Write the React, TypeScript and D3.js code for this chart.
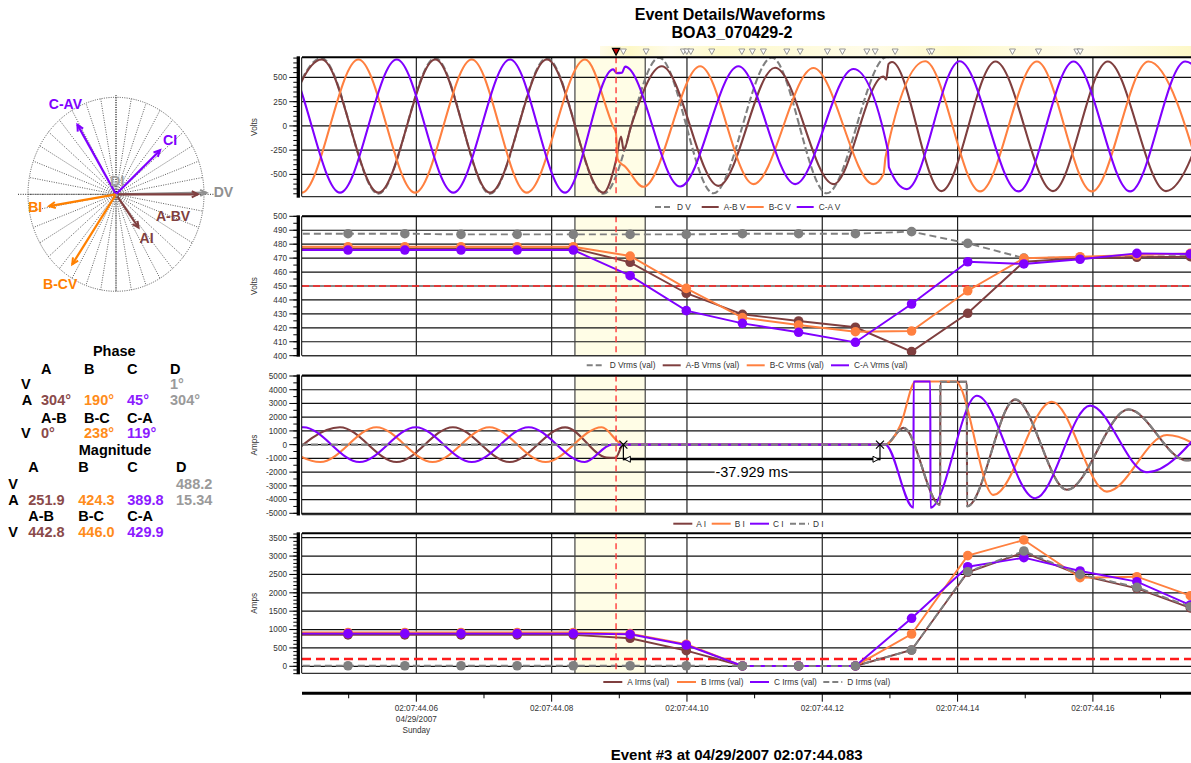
import React from "react";
import * as d3 from "d3";

type Pt = [number, number];

const FONT = "'Liberation Sans', Arial, Helvetica, sans-serif";
const C_AB = "#7f3f3f";
const C_BC = "#ff8040";
const C_CA = "#8000ff";
const C_D = "#808080";

// ---------------- titles / labels ----------------
const titleLines = ["Event Details/Waveforms", "BOA3_070429-2"];
const footer = "Event #3 at 04/29/2007 02:07:44.083";

// ---------------- time axis (ms after 02:07:44) ----------------
const timeMajor = [60, 80, 100, 120, 140, 160];
const timeMinor = [50, 70, 90, 110, 130, 150, 170];
const timeLabels = ["02:07:44.06", "02:07:44.08", "02:07:44.10", "02:07:44.12", "02:07:44.14", "02:07:44.16"];
const dateLabels = ["04/29/2007", "Sunday"];

const voltTicks = [-500, -250, 0, 250, 500];
const rmsVoltTicks = [400, 410, 420, 430, 440, 450, 460, 470, 480, 490, 500];
const ampTicks = [-5000, -4000, -3000, -2000, -1000, 0, 1000, 2000, 3000, 4000, 5000];
const rmsAmpTicks = [0, 500, 1000, 1500, 2000, 2500, 3000, 3500];

const eventWindow = [83.44, 93.83];
const cursorTime = 89.52;
const measureStart = 90.6;
const measureDelta = 37.929;
const voltThreshold = 450;
const ampThreshold = 200;
const markerTimes = [90.6, 93.96, 99.47, 99.98, 100.57, 103.67, 108.11, 109.67, 111.3, 114.76, 116.73, 120.76, 122.98, 126.59, 127.82, 130.77, 135.84, 136.2, 148.11, 151.96, 157.63, 158.12];

// ---------------- panel 1 : instantaneous voltages (peaks / breakpoints) ----------------
const waveLabels = ["D V", "A-B V", "B-C V", "C-A V"];
const waveDV: Pt[] = [[37.6, -698], [46.0, 700], [54.4, -700], [62.8, 700], [70.9, -700], [79.3, 700], [87.65, -700], [95.88, 705], [103.91, -695], [112.54, 705], [120.67, -695], [129.55, 712], [130.1, 705]];
const waveAB: Pt[] = [[37.6, -685], [46.0, 685], [54.4, -688], [62.8, 685], [70.9, -688], [79.3, 685], [87.65, -688], [89.5, -360], [90.25, -110], [90.65, -250], [91.7, -10], [96.28, 615], [104.65, -618], [113.03, 600], [121.65, -600], [129.05, 510], [129.45, 478], [129.8, 640], [130.3, 660], [137.6, -672], [145.6, 665], [154.1, -672], [162.2, 665], [170.8, -672], [179.1, 665]];
const waveBC: Pt[] = [[34.7, 685], [43.06, -688], [51.43, 685], [59.81, -688], [68.19, 685], [76.32, -688], [84.94, 685], [89.12, -10], [89.5, -70], [89.75, -340], [90.2, -385], [90.7, -410], [93.56, -628], [101.95, 615], [109.82, -600], [118.69, 598], [127.57, -600], [129.05, -496], [129.35, -323], [135.21, 667], [143.33, -675], [151.72, 665], [159.85, -675], [168.22, 665], [176.6, -675]];
const waveCA: Pt[] = [[32.0, -688], [40.34, 685], [48.72, -688], [57.1, 685], [65.47, -688], [73.85, 685], [81.98, -688], [89.1, 583], [89.6, 545], [90.4, 550], [90.85, 612], [98.99, -625], [107.6, 615], [115.99, -600], [124.61, 587], [129.7, -253], [129.85, -427], [132.5, -652], [140.3, 667], [149.0, -675], [157.13, 665], [165.51, -675], [173.64, 665], [182.0, -675]];

// ---------------- panel 2 : RMS voltages ----------------
const rmsTimes = [41.6, 49.9, 58.3, 66.6, 74.9, 83.2, 91.6, 99.9, 108.2, 116.5, 124.9, 133.2, 141.5, 149.8, 158.1, 166.5, 174.4];
const vrmsLabels = ["D Vrms (val)", "A-B Vrms (val)", "B-C Vrms (val)", "C-A Vrms (val)"];
const vrmsD = [487.5, 487.5, 487.5, 487, 487, 487, 487, 487, 487.5, 487.5, 487.5, 489, 480.6, 470, 470.5, 471, 471.5];
const vrmsAB = [477, 477, 477, 477, 477, 477, 467, 444.8, 429.7, 424.9, 420.4, 402.9, 430.4, 467.4, 469.9, 470.6, 471];
const vrmsBC = [478.2, 478.2, 478.2, 478.2, 478.2, 478.2, 471.5, 448.3, 427.3, 422, 417.2, 417.7, 446.6, 469.9, 471, 472.2, 473.4];
const vrmsCA = [475.8, 475.8, 475.8, 475.8, 475.8, 475.8, 457.4, 432.3, 423.2, 416.8, 409.6, 437.1, 467.4, 465.8, 469.2, 473.4, 473];

// ---------------- panel 3 : instantaneous currents ----------------
const curLabels = ["A I", "B I", "C I", "D I"];
const curA: Pt[] = [[40.4, -1260], [48.7, 1265], [57.1, -1265], [65.4, 1265], [73.8, -1265], [82.0, 1260], [88.1, -930], [89.4, -965], [90.6, 0], [129.3, 0], [132.0, 1220], [137.42, -4380], [137.45, 4570], [141.37, 4570], [141.4, -4490], [148.51, 3280], [156.16, -3290], [165.26, 2560], [173.8, -1140], [182.0, 1500]];
const curB: Pt[] = [[37.4, 1265], [45.8, -1265], [54.1, 1265], [62.4, -1265], [70.8, 1265], [79.1, -1265], [87.4, 1265], [90.6, 0], [129.3, 0], [131.56, 1430], [133.78, 4600], [139.69, 4600], [145.3, -3660], [153.94, 3130], [162.07, -3420], [170.94, 700], [179.0, -1400]];
const curC: Pt[] = [[35.0, -1265], [43.3, 1265], [51.6, -1265], [59.9, 1265], [68.2, -1265], [76.6, 1265], [84.9, -1265], [88.9, 0], [129.3, 0], [133.48, -4590], [133.5, 4600], [135.96, 4600], [136.0, -4590], [142.85, 3560], [151.47, -3900], [159.6, 2840], [167.98, -2010], [176.5, 1300]];
const curD: Pt[] = [[40.0, 0], [129.3, 0], [132.0, 1235], [137.42, -4395], [137.45, 4570], [141.37, 4570], [141.4, -4500], [148.51, 3300], [156.16, -3300], [165.26, 2570], [173.8, -1150], [182.0, 1500]];

// ---------------- panel 4 : RMS currents ----------------
const irmsLabels = ["A Irms (val)", "B Irms (val)", "C Irms (val)", "D Irms (val)"];
const irmsA = [855, 855, 855, 855, 855, 855, 762, 425, 10, 10, 10, 443, 2560, 3100, 2480, 2120, 1590];
const irmsB = [920, 920, 920, 920, 920, 920, 890, 600, 10, 10, 10, 879, 3011, 3438, 2412, 2439, 1922];
const irmsC = [888, 888, 888, 888, 888, 888, 871, 580, 10, 10, 10, 1306, 2711, 2956, 2594, 2303, 1668];
const irmsD = [15, 15, 15, 15, 15, 15, 15, 15, 10, 10, 10, 443, 2575, 3138, 2503, 2150, 1622];

// ---------------- phasors ----------------
const phasorNames = ["DV", "A-BV", "B-CV", "C-AV", "AI", "BI", "CI", "DI"];
const phasorKinds = ["V", "V", "V", "V", "I", "I", "I", "I"];
const phasorAngles = [1, 0, 238, 119, 304, 190, 45, 304];
const phasorMags = [488.2, 442.8, 446.0, 429.9, 251.9, 424.3, 389.8, 15.34];

// ---------------- table ----------------
const phaseCols = ["A", "B", "C", "D"];
const llCols = ["A-B", "B-C", "C-A"];
const phaseV = ["", "", "", "1°"];
const phaseA = ["304°", "190°", "45°", "304°"];
const phaseLL = ["0°", "238°", "119°"];
const magV = ["", "", "", "488.2"];
const magA = ["251.9", "424.3", "389.8", "15.34"];
const magLL = ["442.8", "446.0", "429.9"];

const T_COL = ["#8a4a4a", "#ff8c1a", "#8c1aff", "#9a9a9a"];

export default function App() {
  const L = 302;
  const R = 1191;
  const x = d3.scaleLinear().domain([43.1, 174.5]).range([L, R]);

  const panels = [
    { id: "p1", top: 57.3, bottom: 196.7, y: d3.scaleLinear().domain([-730, 708]).range([196.7, 57.3]), major: voltTicks, minorStep: 50, title: "Volts" },
    { id: "p2", top: 216.3, bottom: 355.7, y: d3.scaleLinear().domain([400, 500]).range([355.7, 216.3]), major: rmsVoltTicks, minorStep: 5, title: "Volts" },
    { id: "p3", top: 375.5, bottom: 514.5, y: d3.scaleLinear().domain([-5000, 5000]).range([513.3, 376]), major: ampTicks, minorStep: 500, title: "Amps" },
    { id: "p4", top: 533.3, bottom: 673.3, y: d3.scaleLinear().domain([0, 3500]).range([666.3, 537.7]), major: rmsAmpTicks, minorStep: 100, title: "Amps" },
  ];

  const wave = (y: d3.ScaleLinear<number, number>, data: Pt[]) =>
    d3.line<Pt>().x((d) => x(d[0])).y((d) => y(d[1])).curve(d3.curveMonotoneX)(data) || "";
  const rmsLine = (y: d3.ScaleLinear<number, number>, vals: number[]) =>
    d3.line<number>().x((_, i) => x(rmsTimes[i])).y((d) => y(d))(vals) || "";

  const renderRms = (y: d3.ScaleLinear<number, number>, vals: number[], color: string, dashed: boolean, key: string) => (
    <g key={key}>
      <path d={rmsLine(y, vals)} fill="none" stroke={color} strokeWidth={1.9} strokeDasharray={dashed ? "7,4" : undefined} />
      {vals.map((v, i) => (
        <circle key={i} cx={x(rmsTimes[i])} cy={y(v)} r={4.8} fill={color} />
      ))}
    </g>
  );

  const panelContent = (idx: number, y: d3.ScaleLinear<number, number>) => {
    if (idx === 0) {
      return (
        <g>
          <path d={wave(y, waveDV)} fill="none" stroke={C_D} strokeWidth={2.1} strokeDasharray="7,3" />
          <path d={wave(y, waveAB)} fill="none" stroke={C_AB} strokeWidth={2.1} />
          <path d={wave(y, waveBC)} fill="none" stroke={C_BC} strokeWidth={2.1} />
          <path d={wave(y, waveCA)} fill="none" stroke={C_CA} strokeWidth={2.1} />
        </g>
      );
    }
    if (idx === 1) {
      return (
        <g>
          <line x1={L} x2={R} y1={y(voltThreshold)} y2={y(voltThreshold)} stroke="#ff2020" strokeWidth={1.5} strokeDasharray="7,4" />
          {renderRms(y, vrmsD, C_D, true, "d")}
          {renderRms(y, vrmsAB, C_AB, false, "ab")}
          {renderRms(y, vrmsBC, C_BC, false, "bc")}
          {renderRms(y, vrmsCA, C_CA, false, "ca")}
        </g>
      );
    }
    if (idx === 2) {
      const x1 = x(measureStart);
      const x2 = x(measureStart + measureDelta);
      const y0 = y(0);
      const ym = y0 + 14.6;
      const cross = (cx: number) => (
        <path d={`M${cx - 4},${y0 - 4}L${cx + 4},${y0 + 4}M${cx - 4},${y0 + 4}L${cx + 4},${y0 - 4}`} stroke="#000" strokeWidth={1.2} />
      );
      const label = `-${measureDelta.toFixed(3)} ms`;
      const mid = (x1 + x2) / 2;
      return (
        <g>
          <path d={wave(y, curA)} fill="none" stroke={C_AB} strokeWidth={2.1} />
          <path d={wave(y, curB)} fill="none" stroke={C_BC} strokeWidth={2.1} />
          <path d={wave(y, curC)} fill="none" stroke={C_CA} strokeWidth={2.1} />
          <path d={wave(y, curD)} fill="none" stroke={C_D} strokeWidth={2.1} strokeDasharray="7,3" />
          {cross(x1)}
          {cross(x2)}
          <line x1={x1} x2={x1} y1={y0} y2={ym + 1} stroke="#000" strokeWidth={1.2} />
          <line x1={x2} x2={x2} y1={y0} y2={ym + 1} stroke="#000" strokeWidth={1.2} />
          <line x1={x1} x2={x2} y1={ym} y2={ym} stroke="#000" strokeWidth={2} />
          <path d={`M${x1 + 1.5},${ym}L${x1 + 7},${ym - 3}L${x1 + 7},${ym + 3}Z`} fill="#fff" stroke="#000" strokeWidth={1} />
          <path d={`M${x2 - 1.5},${ym}L${x2 - 7},${ym - 3}L${x2 - 7},${ym + 3}Z`} fill="#fff" stroke="#000" strokeWidth={1} />
          <rect x={mid - 37} y={ym + 5} width={74} height={15} fill="#fff" />
          <text x={mid} y={ym + 17.3} textAnchor="middle" fontSize={14.5} fill="#000">{label}</text>
        </g>
      );
    }
    return (
      <g>
        <line x1={L} x2={R} y1={y(ampThreshold)} y2={y(ampThreshold)} stroke="#ff1a1a" strokeWidth={2.4} strokeDasharray="9,5" />
        {renderRms(y, irmsA, C_AB, false, "a")}
        {renderRms(y, irmsB, C_BC, false, "b")}
        {renderRms(y, irmsC, C_CA, false, "c")}
        {renderRms(y, irmsD, C_D, true, "d")}
      </g>
    );
  };

  const legendLayout = [
    { y: 207, labels: waveLabels, colors: [C_D, C_AB, C_BC, C_CA], xs: [655, 701.7, 746.7, 796.7], len: 17, off: 22 },
    { y: 365.3, labels: vrmsLabels, colors: [C_D, C_AB, C_BC, C_CA], xs: [586.7, 662.7, 746.7, 831], len: 18, off: 23 },
    { y: 523.7, labels: curLabels, colors: [C_AB, C_BC, C_CA, C_D], xs: [673.3, 711.7, 750, 790], len: 19, off: 23 },
    { y: 682, labels: irmsLabels, colors: [C_AB, C_BC, C_CA, C_D], xs: [603.3, 677, 750, 823.3], len: 19, off: 24 },
  ];

  // phasor geometry
  const pcx = 116;
  const pcy = 194.3;
  const prx = 88;
  const pry = 97;
  const vScale = d3.scaleLinear().domain([0, 475]).range([0, 88]);
  const iScale = d3.scaleLinear().domain([0, 550]).range([0, 88]);
  const phColors: Record<string, string> = {
    DV: "#909090", "A-BV": "#804040", "B-CV": "#ff8000", "C-AV": "#8000ff",
    AI: "#804040", BI: "#ff8000", CI: "#8000ff", DI: "#a0a0a0",
  };
  const phLabelOffset: Record<string, [number, number]> = {
    DV: [17, -1], "A-BV": [-25, 22], "B-CV": [-12, 20], "C-AV": [-12, -21],
    AI: [8, 10], BI: [-14, 0.6], CI: [10, -10], DI: [0, -15],
  };
  const phOrder = [0, 1, 2, 3, 4, 5, 6, 7];

  const radials = d3.range(0, 360, 10);

  return (
    <svg width={1191} height={763} style={{ position: "absolute", left: 0, top: 0, background: "#fff" }} fontFamily={FONT}>
      <rect x={0} y={0} width={1191} height={763} fill="#fff" />
      {/* titles */}
      <text x={730} y={19.7} textAnchor="middle" fontSize={16} fontWeight="bold">{titleLines[0]}</text>
      <text x={732} y={38} textAnchor="middle" fontSize={16} fontWeight="bold">{titleLines[1]}</text>
      <text x={736.7} y={760.4} textAnchor="middle" fontSize={15} fontWeight="bold">{footer}</text>

      {/* event marker band */}
      <defs>
        <linearGradient id="band" x1="0" x2="1" y1="0" y2="0">
          <stop offset="0" stopColor="#fffbe8" />
          <stop offset="0.05" stopColor="#fdf8c8" />
          <stop offset="0.12" stopColor="#fffcea" />
          <stop offset="0.2" stopColor="#fdf9cc" />
          <stop offset="0.45" stopColor="#fffce8" />
          <stop offset="0.6" stopColor="#fdf9cc" />
          <stop offset="0.8" stopColor="#fffcec" />
          <stop offset="1" stopColor="#fdf8c8" />
        </linearGradient>
      </defs>
      <rect x={600} y={46} width={R - 600} height={10} fill="url(#band)" />
      {markerTimes.map((t, i) => {
        const cx = x(t);
        return <path key={i} d={`M${cx - 3},49L${cx + 3},49L${cx},54.5Z`} fill="#fff" stroke="#8a8a8a" strokeWidth={0.9} />;
      })}
      <path d={`M${x(cursorTime) - 3.6},48.3L${x(cursorTime) + 3.6},48.3L${x(cursorTime)},55.3Z`} fill="#c00000" stroke="#000" strokeWidth={1.2} />

      {/* panels */}
      {panels.map((p, idx) => {
        const [d0, d1] = p.y.domain();
        const minors = d3.range(Math.ceil((d0 - p.minorStep * 3) / p.minorStep) * p.minorStep, d1 + p.minorStep * 3, p.minorStep)
          .filter((v) => p.y(v) >= p.top - 0.5 && p.y(v) <= p.bottom + 0.5);
        return (
          <g key={p.id}>
            <defs>
              <clipPath id={`clip-${p.id}`}>
                <rect x={L} y={p.top} width={R - L} height={p.bottom - p.top} />
              </clipPath>
            </defs>
            <rect x={x(eventWindow[0])} y={p.top} width={x(eventWindow[1]) - x(eventWindow[0])} height={p.bottom - p.top} fill="#fffde6" />
            {p.major.map((v) => (
              <line key={v} x1={L} x2={R} y1={p.y(v)} y2={p.y(v)} stroke="#111" strokeWidth={1.2} />
            ))}
            {timeMajor.map((t) => (
              <line key={t} x1={x(t)} x2={x(t)} y1={p.top} y2={p.bottom} stroke="#222" strokeWidth={1.2} />
            ))}
            {eventWindow.map((t) => (
              <line key={t} x1={x(t)} x2={x(t)} y1={p.top} y2={p.bottom} stroke="#444" strokeWidth={1.2} />
            ))}
            <g clipPath={`url(#clip-${p.id})`}>{panelContent(idx, p.y)}</g>
            <line x1={x(cursorTime)} x2={x(cursorTime)} y1={p.top} y2={p.bottom} stroke="#ff3b3b" strokeWidth={1.4} strokeDasharray="6,4" />
            <line x1={L} x2={R} y1={p.top} y2={p.top} stroke="#000" strokeWidth={2} />
            <line x1={L} x2={R} y1={p.bottom} y2={p.bottom} stroke="#333" strokeWidth={1.3} />
            <line x1={301.7} x2={301.7} y1={p.top} y2={p.bottom} stroke="#000" strokeWidth={1} />
            {/* y axis */}
            <line x1={298.3} x2={298.3} y1={p.top - 1} y2={p.bottom + 1} stroke="#000" strokeWidth={3.3} />
            {minors.map((v) => (
              <line key={`m${v}`} x1={293.3} x2={297} y1={p.y(v)} y2={p.y(v)} stroke="#000" strokeWidth={1} />
            ))}
            {p.major.map((v) => (
              <g key={`t${v}`}>
                <line x1={289.3} x2={297} y1={p.y(v)} y2={p.y(v)} stroke="#000" strokeWidth={1} />
                <text x={287} y={p.y(v)} dy="0.35em" textAnchor="end" fontSize={8.2} fill="#333">{v}</text>
              </g>
            ))}
            <text transform={`translate(${257},${(p.top + p.bottom) / 2}) rotate(-90)`} textAnchor="middle" fontSize={8.2} fill="#333">{p.title}</text>
          </g>
        );
      })}

      {/* legends */}
      {legendLayout.map((lg, li) => (
        <g key={li}>
          {lg.labels.map((lab, i) => {
            const dashed = lg.colors[i] === C_D;
            return (
              <g key={lab}>
                <line x1={lg.xs[i]} x2={lg.xs[i] + lg.len} y1={lg.y} y2={lg.y} stroke={lg.colors[i]} strokeWidth={2} strokeDasharray={dashed ? "6,3" : undefined} />
                <text x={lg.xs[i] + lg.off} y={lg.y} dy="0.35em" fontSize={8.3} fill="#333">{lab}</text>
              </g>
            );
          })}
        </g>
      ))}

      {/* x axis */}
      <line x1={L} x2={R} y1={693.3} y2={693.3} stroke="#000" strokeWidth={3} />
      {timeMajor.map((t, i) => (
        <g key={t}>
          <line x1={x(t)} x2={x(t)} y1={694} y2={701.7} stroke="#000" strokeWidth={1} />
          <text x={x(t)} y={711} textAnchor="middle" fontSize={8.2} fill="#333">{timeLabels[i]}</text>
        </g>
      ))}
      {timeMinor.map((t) => (
        <line key={t} x1={x(t)} x2={x(t)} y1={694} y2={698.3} stroke="#000" strokeWidth={1} />
      ))}
      <text x={x(timeMajor[0])} y={722} textAnchor="middle" fontSize={8.2} fill="#333">{dateLabels[0]}</text>
      <text x={x(timeMajor[0])} y={733} textAnchor="middle" fontSize={8.2} fill="#333">{dateLabels[1]}</text>

      {/* phasor diagram */}
      <g>
        {radials.map((a) => {
          const r = (a * Math.PI) / 180;
          return <line key={a} x1={pcx} y1={pcy} x2={pcx + prx * Math.cos(r)} y2={pcy - pry * Math.sin(r)} stroke="#333" strokeWidth={0.8} strokeDasharray="1,1.4" />;
        })}
        <ellipse cx={pcx} cy={pcy} rx={prx} ry={pry} fill="none" stroke="#444" strokeWidth={0.9} strokeDasharray="1,1.3" />
        <line x1={18} x2={214} y1={pcy} y2={pcy} stroke="#111" strokeWidth={0.9} strokeDasharray="1,1.4" />
        <line x1={pcx} x2={pcx} y1={95} y2={291} stroke="#111" strokeWidth={0.9} strokeDasharray="1,1.4" />
        {phOrder.map((i) => {
          const name = phasorNames[i];
          const len = phasorKinds[i] === "V" ? vScale(phasorMags[i]) : iScale(phasorMags[i]);
          const a = (phasorAngles[i] * Math.PI) / 180;
          const tx = pcx + len * Math.cos(a);
          const ty = pcy - len * Math.sin(a);
          const hl = 7;
          const b1 = a + Math.PI - 0.45;
          const b2 = a + Math.PI + 0.45;
          const col = phColors[name];
          const off = phLabelOffset[name];
          return (
            <g key={name}>
              <line x1={pcx} y1={pcy} x2={tx} y2={ty} stroke={col} strokeWidth={2.2} />
              {len > 8 && (
                <path d={`M${tx + hl * Math.cos(b1)},${ty - hl * Math.sin(b1)}L${tx},${ty}L${tx + hl * Math.cos(b2)},${ty - hl * Math.sin(b2)}`} fill="none" stroke={col} strokeWidth={2} />
              )}
              <text x={tx + off[0]} y={ty + off[1]} dy="0.35em" textAnchor="middle" fontSize={14} fontWeight="bold" fill={col}>{name}</text>
            </g>
          );
        })}
      </g>

      {/* table */}
      <g fontSize={14.5} fontWeight="bold">
        <text x={114.3} y={355.7} textAnchor="middle">Phase</text>
        {phaseCols.map((c, i) => (
          <text key={c} x={[41, 84, 127, 170][i]} y={373.5}>{c}</text>
        ))}
        <text x={21} y={388.5}>V</text>
        {phaseV.map((v, i) => (
          <text key={`pv${i}`} x={[41, 84, 127, 170][i]} y={388.5} fill={T_COL[i]}>{v}</text>
        ))}
        <text x={21.7} y={405.2}>A</text>
        {phaseA.map((v, i) => (
          <text key={`pa${i}`} x={[41, 84, 127, 170][i]} y={405.2} fill={T_COL[i]}>{v}</text>
        ))}
        {llCols.map((c, i) => (
          <text key={`pl${c}`} x={[41, 84, 127][i]} y={422.5}>{c}</text>
        ))}
        <text x={21} y={438}>V</text>
        {phaseLL.map((v, i) => (
          <text key={`pll${i}`} x={[41, 84, 127][i]} y={438} fill={T_COL[i]}>{v}</text>
        ))}

        <text x={115} y={455.2} textAnchor="middle">Magnitude</text>
        {phaseCols.map((c, i) => (
          <text key={`m${c}`} x={[28.3, 78.3, 127.3, 176][i]} y={472}>{c}</text>
        ))}
        <text x={8.3} y={488.5}>V</text>
        {magV.map((v, i) => (
          <text key={`mv${i}`} x={[28.3, 78.3, 127.3, 176][i]} y={488.5} fill={T_COL[i]}>{v}</text>
        ))}
        <text x={8.3} y={504.5}>A</text>
        {magA.map((v, i) => (
          <text key={`ma${i}`} x={[28.3, 78.3, 127.3, 176][i]} y={504.5} fill={T_COL[i]}>{v}</text>
        ))}
        {llCols.map((c, i) => (
          <text key={`ml${c}`} x={[28.3, 78.3, 127.3][i]} y={521.2}>{c}</text>
        ))}
        <text x={8.3} y={537}>V</text>
        {magLL.map((v, i) => (
          <text key={`mll${i}`} x={[28.3, 78.3, 127.3][i]} y={537} fill={T_COL[i]}>{v}</text>
        ))}
      </g>
    </svg>
  );
}
